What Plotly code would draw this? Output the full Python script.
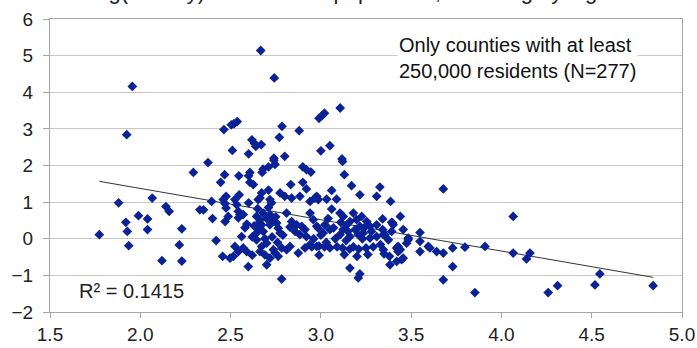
import numpy as np
import plotly.graph_objects as go

# Log(density) values
log_density = [
    # left group
    1.956, 1.925, 2.294, 1.88, 2.066, 2.142, 2.16, 1.99, 2.04, 1.92, 1.928, 2.04, 2.23, 1.773, 1.936, 2.216, 2.12, 2.23, 2.33,
    # upper middle
    2.667, 2.742, 3.107, 3.02, 3.006, 2.99, 2.537, 2.519, 2.504, 2.463, 2.785, 2.88, 2.77, 2.618, 2.633, 2.67, 2.64,
    2.51, 2.60, 3.05, 3.0, 3.117, 2.80, 2.74, 2.375, 2.467, 2.546, 2.607, 2.60, 2.68, 2.71, 2.675, 2.74, 2.746,
    2.90, 2.92, 2.945, 3.12, 3.13,
    # y 1.0 - 1.55
    2.445, 2.607, 2.626, 2.833, 2.90, 2.92, 2.71, 3.17, 3.327, 3.216, 3.309, 3.386, 3.678, 2.475, 2.46, 2.548, 2.524,
    2.672, 2.663, 2.718, 2.727, 2.774, 2.80, 2.838, 2.884, 2.94, 2.967, 2.986, 3.032, 3.06, 3.087, 2.395, 2.60, 2.977, 2.653,
    # y 0 - 1
    2.35, 2.475, 2.534, 2.543, 2.552, 2.47, 2.487, 2.469, 2.57, 2.543, 2.644, 2.663, 2.672, 2.653, 2.681, 2.644, 2.718,
    2.733, 2.755, 2.718, 2.764, 2.774, 2.81, 2.838, 2.829, 2.866, 2.894, 2.857, 2.912, 2.92, 2.884, 2.94, 2.958, 2.977,
    3.06, 3.106, 3.124, 3.18, 3.226, 3.198, 3.254, 3.161, 3.143, 3.216, 3.272, 3.309, 3.342, 3.392, 3.44, 3.40, 3.456,
    3.549, 2.986, 3.023, 3.05, 3.013, 3.124, 3.161, 3.106, 3.207, 3.235, 3.272, 3.309, 3.346, 3.374, 3.398, 3.392, 3.342,
    3.355, 3.484, 3.475, 4.065,
    # y < 0
    2.561, 2.524, 2.57, 2.543, 2.515, 2.497, 2.456, 2.589, 2.598, 2.644, 2.672, 2.70, 2.663, 2.69, 2.718, 2.70, 2.746,
    2.764, 2.737, 2.783, 2.81, 2.829, 2.783, 2.875, 2.912, 2.94, 2.977,
    2.95, 2.99, 3.02, 3.05, 3.09, 3.12, 3.16, 3.18, 3.21, 3.25, 3.29, 3.33,
    2.99, 3.13, 3.20, 3.26, 3.35, 3.38,
    3.42, 3.44, 3.484, 3.549, 3.595, 3.641, 3.383, 3.42, 3.447, 3.161, 3.216, 3.207,
    3.346, 3.428, 3.428, 3.456, 3.549, 3.604, 3.678, 3.73, 3.798, 3.909, 3.73, 3.678, 3.853, 4.065, 4.139, 4.158,
    4.545, 4.518, 4.259, 4.311, 4.84,
    # extra points in dense cluster
    2.58, 2.62, 2.66, 2.69, 2.71, 2.75, 2.79, 2.62, 2.65, 2.68, 2.73, 2.76, 2.59, 2.63, 2.70,
    2.96, 3.00, 3.04, 3.08, 3.11, 3.15, 3.19, 3.23, 3.28, 3.03, 3.07, 3.14, 3.24, 2.42, 2.40,
]

# % change (y values)
pct_change = [
    # left group
    4.16, 2.84, 1.81, 0.98, 1.11, 0.88, 0.75, 0.63, 0.54, 0.45, 0.20, 0.25, 0.27, 0.11, -0.19, -0.17, -0.60, -0.61, 0.79,
    # upper middle
    5.14, 4.39, 3.57, 3.43, 3.36, 3.29, 3.20, 3.14, 3.11, 2.98, 3.07, 2.95, 2.77, 2.70, 2.60, 2.57, 2.52,
    2.41, 2.32, 2.54, 2.40, 2.18, 2.25, 2.20, 2.08, 1.75, 1.72, 1.81, 1.72, 1.90, 1.96, 1.81, 2.14, 2.03,
    1.96, 1.89, 1.82, 2.11, 1.75,
    # y 1.0 - 1.55
    1.54, 1.54, 1.48, 1.48, 1.54, 1.36, 1.33, 1.45, 1.41, 1.20, 1.16, 1.02, 1.36, 1.16, 1.07, 1.20, 1.07,
    1.25, 1.11, 1.07, 0.98, 1.25, 1.16, 1.11, 1.16, 1.02, 1.11, 1.07, 1.08, 1.32, 1.08, 1.02, 0.98, 1.16, 1.07,
    # y 0 - 1
    0.79, 0.84, 0.93, 0.75, 0.66, 0.47, 0.61, 0.96, 0.66, 0.57, 0.61, 0.52, 0.38, 0.29, 0.20, 0.16, 0.66,
    0.52, 0.43, 0.38, 0.29, 0.16, 0.70, 0.47, 0.32, 0.38, 0.34, 0.20, 0.25, 0.06, 0.11, 0.70, 0.52, 0.34,
    0.81, 0.70, 0.61, 0.70, 0.61, 0.52, 0.47, 0.47, 0.38, 0.34, 0.34, 0.38, 0.54, 0.45, 0.61, 0.38, 0.25,
    0.17, 0.29, 0.38, 0.25, 0.16, 0.25, 0.06, 0.11, 0.11, 0.16, 0.02, 0.06, 0.11, -0.03, 0.43, 0.20, 0.25,
    0.11, 0.02, -0.12, 0.61,
    # y < 0
    0.06, -0.21, -0.25, -0.35, -0.48, -0.53, -0.48, -0.35, -0.76, -0.03, -0.21, -0.12, -0.35, -0.44, -0.53, -0.71, -0.39,
    -0.48, -0.30, -0.25, -0.30, -0.21, -1.10, -0.39, -0.25, -0.16, -0.21,
    -0.22, -0.20, -0.22, -0.25, -0.22, -0.25, -0.28, -0.22, -0.28, -0.25, -0.22, -0.16,
    -0.45, -0.43, -0.48, -0.43, -0.41, -0.48,
    -0.25, -0.30, -0.03, -0.07, -0.21, -0.35, -0.71, -0.62, -0.57, -0.80, -0.96, -1.07,
    -0.30, -0.21, -0.35, -0.53, -0.35, -0.25, -0.39, -0.25, -0.23, -0.21, -0.76, -1.12, -1.47, -0.39, -0.55, -0.39,
    -0.96, -1.26, -1.47, -1.28, -1.28,
    # extra points in dense cluster
    0.30, 0.05, 0.45, 0.00, 0.85, 0.60, 0.10, -0.45, 0.82, 0.70, 0.05, -0.10, 0.40, 0.35, 0.55,
    0.00, 0.10, 0.55, 0.00, 0.45, 0.20, 0.25, 0.00, 0.20, -0.10, 0.30, -0.05, 0.30, -0.05, 0.55,
]

x_ticks = [1.5, 2.0, 2.5, 3.0, 3.5, 4.0, 4.5, 5.0]
x_tick_labels = ["1.5", "2.0", "2.5", "3.0", "3.5", "4.0", "4.5", "5.0"]
y_ticks = [-2, -1, 0, 1, 2, 3, 4, 5, 6]

title_text = "% under Log(density) vs. % under population, % change y. age"
box_text = "Only counties with at least<br>250,000 residents (N=277)"
r2_text = "R² = 0.1415"

xa = np.array(log_density)
ya = np.array(pct_change)
slope, intercept = np.polyfit(xa, ya, 1)
line_x = np.array([xa.min(), xa.max()])
line_y = slope * line_x + intercept

fig = go.Figure()
fig.add_trace(go.Scatter(
    x=line_x, y=line_y, mode="lines",
    line=dict(color="#333333", width=1), hoverinfo="skip", showlegend=False,
))
fig.add_trace(go.Scatter(
    x=log_density, y=pct_change, mode="markers",
    marker=dict(symbol="diamond", size=7.5, color="#0a2296",
                line=dict(width=0)),
    showlegend=False,
))

FONT = "Liberation Sans, Arial, sans-serif"
axis_font = dict(family=FONT, size=19, color="#222222")
fig.update_xaxes(
    range=[1.5, 5.0], tickvals=x_ticks, ticktext=x_tick_labels,
    showgrid=False, zeroline=False, automargin=False,
    showline=True, linecolor="#a6a6a6", linewidth=1, mirror=True,
    ticks="outside", ticklen=5, tickcolor="#a6a6a6",
    tickfont=axis_font,
)
fig.update_yaxes(
    range=[-2, 6], tickvals=y_ticks,
    showgrid=True, gridcolor="#c8c8c8", gridwidth=1, zeroline=False, automargin=False,
    showline=True, linecolor="#a6a6a6", linewidth=1, mirror=True,
    ticks="outside", ticklen=6, tickcolor="#a6a6a6",
    tickfont=axis_font, ticklabelstandoff=6,
)

fig.add_annotation(
    text=box_text, xref="paper", yref="paper", x=0.549, y=0.868,
    xanchor="left", yanchor="middle", align="left", showarrow=False,
    font=dict(family=FONT, size=20, color="#111111"),
    bgcolor="white", borderpad=1,
)
fig.add_annotation(
    text=r2_text, xref="paper", yref="paper", x=0.043, y=0.07,
    xanchor="left", yanchor="middle", showarrow=False,
    font=dict(family=FONT, size=20, color="#222222"),
)
fig.add_annotation(
    text=title_text, xref="paper", yref="paper", x=-0.088, y=1.045,
    xanchor="left", yanchor="bottom", showarrow=False,
    font=dict(family=FONT, size=22, color="#222222"),
)

fig.update_layout(
    width=697, height=348,
    margin=dict(l=50, r=15, t=19, b=36),
    plot_bgcolor="white", paper_bgcolor="white",
)
fig.write_html(
    "out.html",
    config={"displayModeBar": False},
    post_script="document.body.style.margin='0';document.body.style.overflow='hidden';",
)
